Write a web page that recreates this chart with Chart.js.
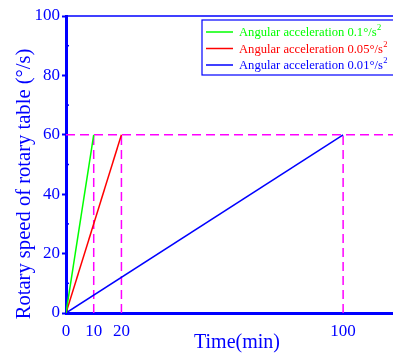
<!DOCTYPE html>
<html>
<head>
<meta charset="utf-8">
<script src="https://cdn.jsdelivr.net/npm/chart.js@4/dist/chart.umd.min.js"></script>
<style>
  html, body { margin: 0; padding: 0; background: #fff; }
  #wrap { width: 393px; height: 356px; }
</style>
</head>
<body>
<div id="wrap"><canvas id="speedChart"></canvas></div>
<script>
// time (min) needed to reach the top speed for each acceleration
const accelTimes = [10, 20, 100];
const accelLabels = ['0.1', '0.05', '0.01'];
const lineColors = ['#00ff00', '#ff0000', '#0000ff'];
const topSpeed = 60;
const xTicks = [0, 10, 20, 100];
const xMax = 118;

const BLUE = '#0000ff';
const serif = "'Liberation Serif', 'DejaVu Serif', serif";

const datasets = accelTimes.map(function (t, i) {
  return {
    label: 'Angular acceleration ' + accelLabels[i] + '°/s2',
    data: [{ x: 0, y: 0 }, { x: t, y: topSpeed }],
    borderColor: lineColors[i],
    borderWidth: 1.5,
    pointRadius: 0,
    fill: false,
    order: 1
  };
});

// magenta guide lines
const dash = [9, 5];
datasets.push({
  label: 'guide',
  data: [{ x: 0, y: topSpeed }, { x: xMax, y: topSpeed }],
  borderColor: '#ff00ff',
  borderWidth: 1.5,
  borderDash: dash,
  pointRadius: 0,
  order: 2
});
accelTimes.forEach(function (t) {
  datasets.push({
    label: 'guide',
    data: [{ x: t, y: 0 }, { x: t, y: topSpeed }],
    borderColor: '#ff00ff',
    borderWidth: 1.5,
    borderDash: dash,
    pointRadius: 0,
    order: 2
  });
});

const extras = {
  id: 'extras',
  afterDraw(chart) {
    const ctx = chart.ctx;
    const a = chart.chartArea;
    const y = chart.scales.y;
    ctx.save();
    // top frame line
    ctx.strokeStyle = BLUE;
    ctx.lineWidth = 1.5;
    ctx.beginPath();
    ctx.moveTo(a.left, a.top);
    ctx.lineTo(chart.width, a.top);
    ctx.stroke();
    // minor y ticks
    for (let v = 10; v < 100; v += 20) {
      const py = y.getPixelForValue(v);
      ctx.beginPath();
      ctx.moveTo(a.left, py);
      ctx.lineTo(a.left + 3, py);
      ctx.stroke();
    }
    // axis titles
    ctx.fillStyle = BLUE;
    ctx.textAlign = 'center';
    ctx.textBaseline = 'middle';
    ctx.font = '20px ' + serif;
    ctx.fillText('Time(min)', 237, 343);
    ctx.save();
    ctx.translate(25, 184);
    ctx.rotate(-Math.PI / 2);
    ctx.font = '20.6px ' + serif;
    ctx.fillText('Rotary speed of rotary table (°/s)', 0, 0);
    ctx.restore();
    // legend box
    const bx = 202, by = 20, bw = 195, bh = 55;
    ctx.fillStyle = '#fff';
    ctx.fillRect(bx, by, bw, bh);
    ctx.strokeStyle = BLUE;
    ctx.lineWidth = 1.2;
    ctx.strokeRect(bx, by, bw, bh);
    const rows = [32, 48.5, 65];
    accelLabels.forEach(function (lab, i) {
      const ry = rows[i];
      ctx.strokeStyle = lineColors[i];
      ctx.lineWidth = 1.5;
      ctx.beginPath();
      ctx.moveTo(206, ry);
      ctx.lineTo(233, ry);
      ctx.stroke();
      ctx.fillStyle = lineColors[i];
      ctx.font = '12.6px ' + serif;
      ctx.textBaseline = 'middle';
      ctx.textAlign = 'left';
      const txt = 'Angular acceleration ' + lab + '°/s';
      ctx.fillText(txt, 239, ry + 1);
      const w = ctx.measureText(txt).width;
      ctx.font = '8.5px ' + serif;
      ctx.fillText('2', 239 + w + 0.5, ry - 4);
    });
    ctx.restore();
  }
};

new Chart(document.getElementById('speedChart'), {
  type: 'line',
  data: { datasets: datasets },
  options: {
    responsive: true,
    maintainAspectRatio: false,
    animation: false,
    layout: { padding: { top: 16, right: 0, left: 0, bottom: 0 } },
    plugins: { legend: { display: false }, tooltip: { enabled: false } },
    scales: {
      x: {
        type: 'linear',
        min: 0,
        max: xMax,
        afterBuildTicks: function (axis) {
          axis.ticks = xTicks.map(function (v) { return { value: v }; });
        },
        afterFit: function (axis) { axis.height = 43; },
        border: { display: true, color: BLUE, width: 3 },
        grid: { drawOnChartArea: false, drawTicks: false },
        ticks: {
          color: BLUE,
          padding: 8,
          maxRotation: 0,
          autoSkip: false,
          font: { family: serif, size: 17 }
        }
      },
      y: {
        min: 0,
        max: 100,
        afterFit: function (axis) { axis.width = 66; },
        border: { display: true, color: BLUE, width: 3 },
        grid: { drawOnChartArea: false, drawTicks: true, tickLength: 4, color: BLUE, tickWidth: 2 },
        ticks: {
          stepSize: 20,
          color: BLUE,
          padding: 2,
          font: { family: serif, size: 17 }
        }
      }
    }
  },
  plugins: [extras]
});
</script>
</body>
</html>
